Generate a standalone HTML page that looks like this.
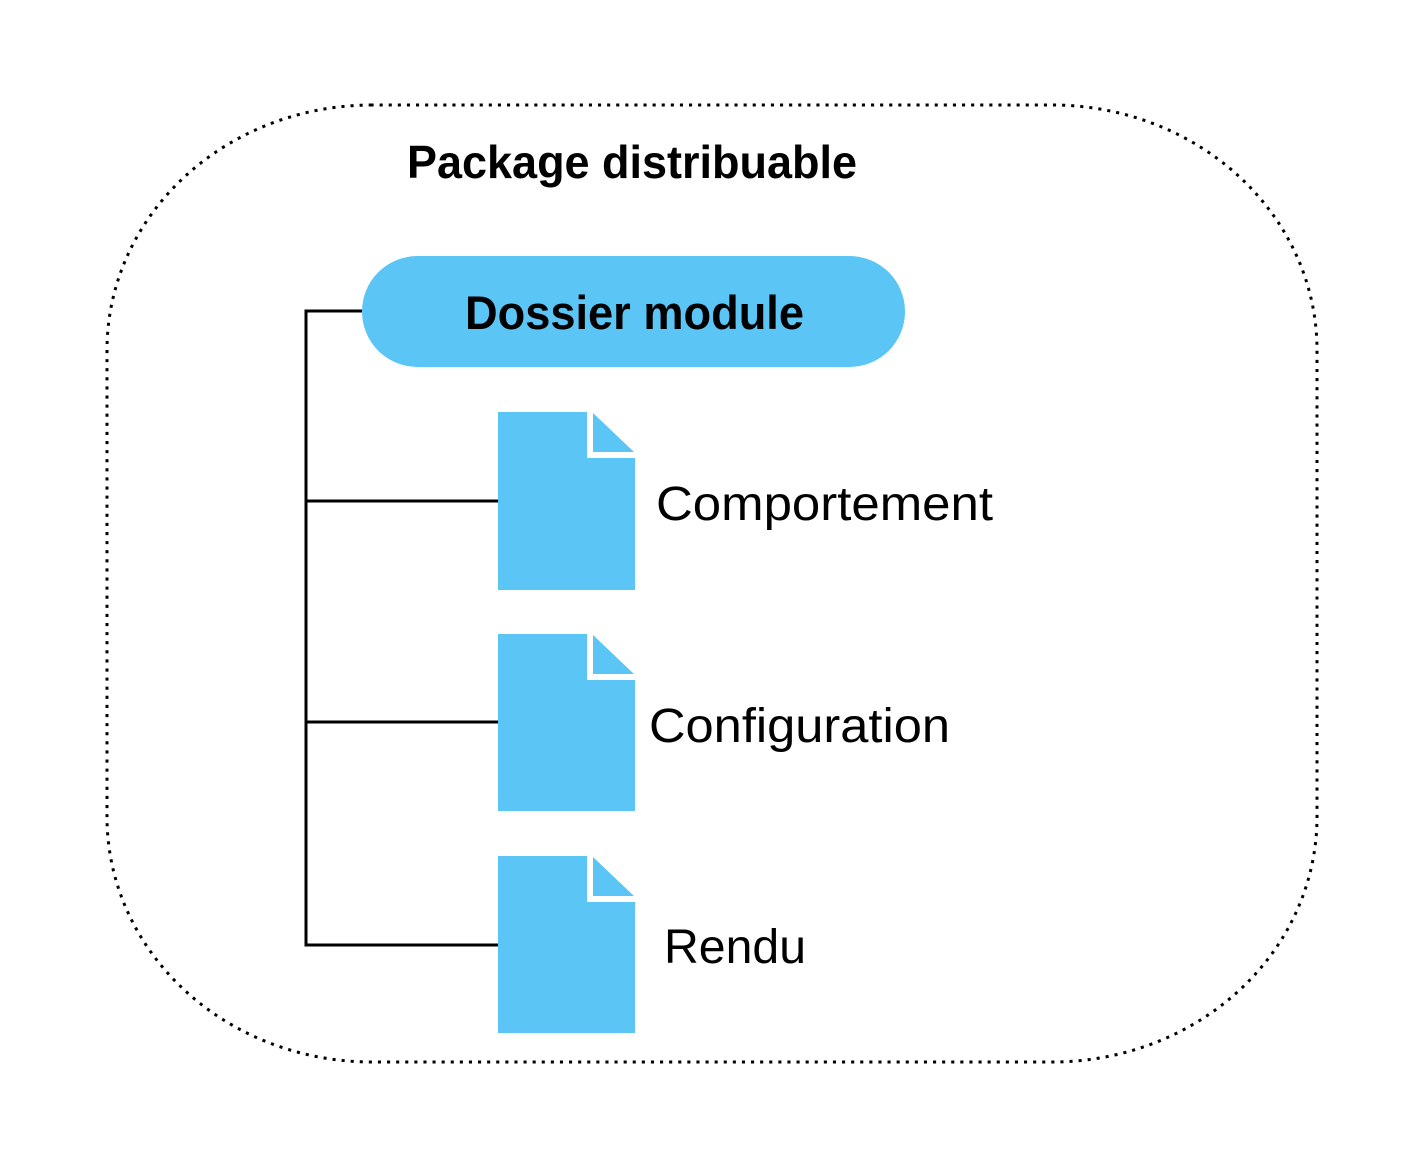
<!DOCTYPE html>
<html><head><meta charset="utf-8"><style>
html,body{margin:0;padding:0;background:#fff;}
svg{display:block;}
text{font-family:"Liberation Sans",sans-serif;fill:#000;}
</style></head><body>
<svg width="1425" height="1169" viewBox="0 0 1425 1169" xmlns="http://www.w3.org/2000/svg">
<rect x="107" y="105" width="1210" height="957" rx="265" ry="245" fill="none" stroke="#000" stroke-width="3" stroke-dasharray="0.1 9" stroke-linecap="square"/>
<text x="407" y="178" font-size="46" font-weight="bold" textLength="450" lengthAdjust="spacingAndGlyphs">Package distribuable</text>
<polyline points="362,311 306,311 306,945 498,945" fill="none" stroke="#000" stroke-width="3"/>
<line x1="306" y1="501" x2="498" y2="501" stroke="#000" stroke-width="3"/>
<line x1="306" y1="722" x2="498" y2="722" stroke="#000" stroke-width="3"/>
<rect x="362" y="256" width="543" height="111" rx="55.5" fill="#5bc5f6"/>
<text x="465" y="329" font-size="47" font-weight="bold" textLength="339" lengthAdjust="spacingAndGlyphs">Dossier module</text>
<g fill="#5bc5f6">
<path d="M498,412 H587 V458 H635 V590 H498 Z"/><path d="M593,413 L634,452 H593 Z"/>
<path d="M498,634 H587 V680 H635 V811 H498 Z"/><path d="M593,635 L634,674 H593 Z"/>
<path d="M498,856 H587 V902 H635 V1033 H498 Z"/><path d="M593,857 L634,896 H593 Z"/>
</g>
<text x="656" y="520" font-size="48" textLength="337" lengthAdjust="spacingAndGlyphs">Comportement</text>
<text x="649" y="742" font-size="48" textLength="301" lengthAdjust="spacingAndGlyphs">Configuration</text>
<text x="664" y="963" font-size="48" textLength="142" lengthAdjust="spacingAndGlyphs">Rendu</text>
</svg>
</body></html>
